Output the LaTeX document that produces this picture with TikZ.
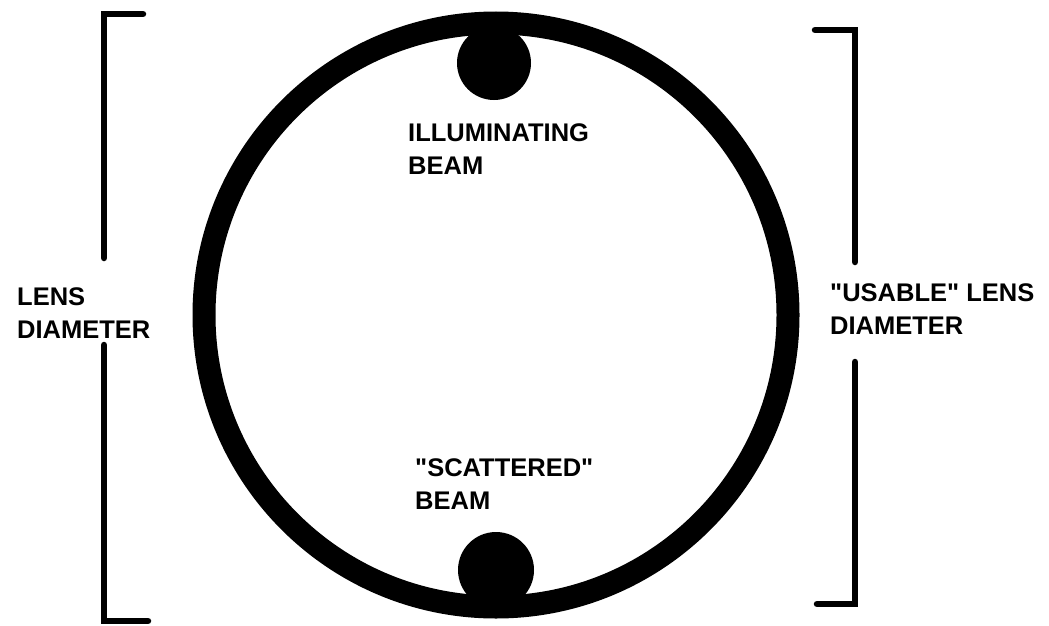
\documentclass[tikz,border=0pt]{standalone}
\usepackage{fontspec}
\setmainfont{Liberation Sans}[Ligatures=TeXOff]
\begin{document}
\begin{tikzpicture}[x=1pt,y=-1pt,
  lbl/.style={anchor=north west,inner sep=0pt,align=left,font=\fontsize{25.5}{33}\selectfont\bfseries},
  ring/.style={line width=23pt},
  brk/.style={line width=6.5pt,line cap=round,line join=miter}]
\useasboundingbox (0,0) rectangle (1049,626);
% lens
\coordinate (c) at (496,315);
\draw[ring] (c) circle (292);
\fill (494,63) circle (37);
\fill (496,570) circle (38);
% left bracket
\coordinate (l1) at (143,14); \coordinate (l2) at (104,14); \coordinate (l3) at (104,258);
\coordinate (l4) at (104,345); \coordinate (l5) at (104,621); \coordinate (l6) at (148,621);
\draw[brk] (l1) -- (l2) -- (l3);
\draw[brk] (l4) -- (l5) -- (l6);
% right bracket
\coordinate (r1) at (815,30); \coordinate (r2) at (855,30); \coordinate (r3) at (855,262);
\coordinate (r4) at (855,362); \coordinate (r5) at (855,604); \coordinate (r6) at (817,604);
\draw[brk] (r1) -- (r2) -- (r3);
\draw[brk] (r4) -- (r5) -- (r6);
% labels
\node[lbl] (lens) at (17,287) {LENS\\DIAMETER};
\node[lbl] (usable) at (830,283) {"USABLE" LENS\\DIAMETER};
\node[lbl] (illum) at (408,123) {ILLUMINATING\\BEAM};
\node[lbl] (scat) at (415,458) {"SCATTERED"\\BEAM};
\end{tikzpicture}
\end{document}
